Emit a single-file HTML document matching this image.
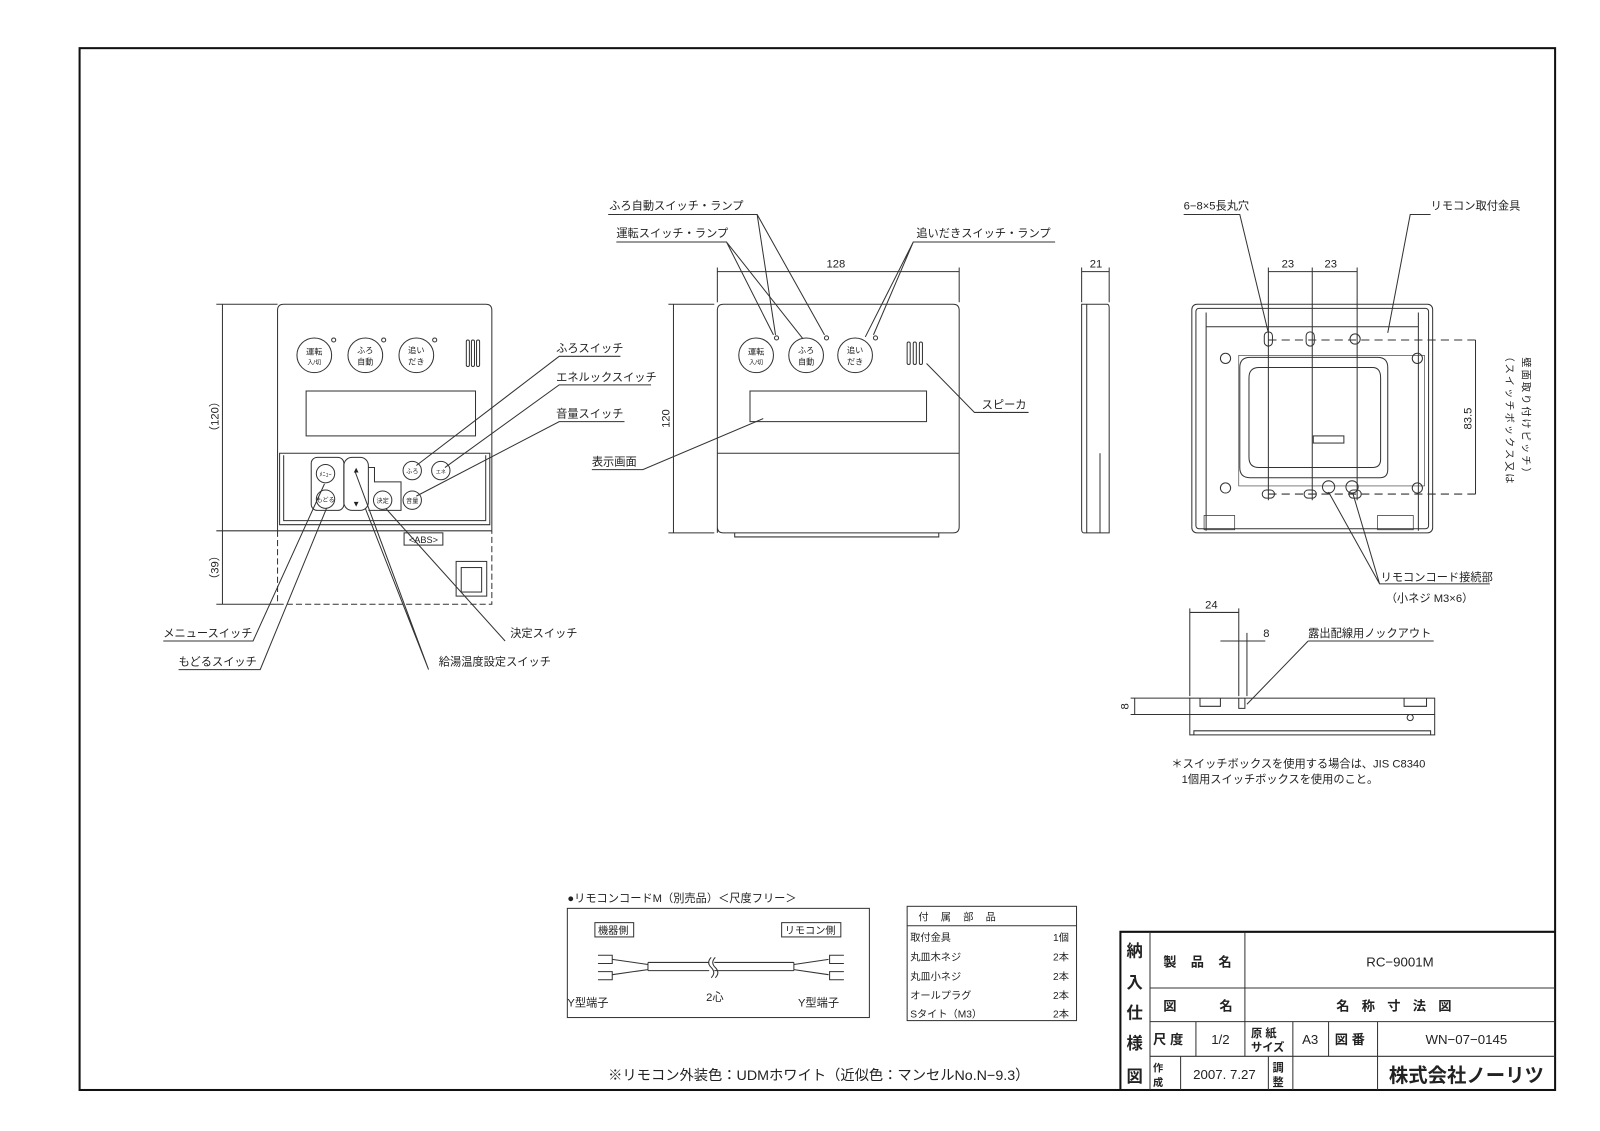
<!DOCTYPE html>
<html><head><meta charset="utf-8"><style>
html,body{margin:0;padding:0;background:#fff}
svg{display:block}
text{font-family:"Liberation Sans","Noto Sans CJK JP",sans-serif;fill:#222}
</style></head><body>
<svg width="1600" height="1131" viewBox="0 0 1568 1108" xmlns="http://www.w3.org/2000/svg">
<g fill="none" stroke="#333" stroke-width="1">
<rect x="78" y="47" width="1446" height="1021" stroke="#111" stroke-width="2"/>

<path d="M272 520 V304 q0-6 6-6 H476 q6 0 6 6 V520"/>
<path d="M272 520 H482" />
<path d="M272 520 V592 H482 V520" stroke-dasharray="6 3"/>
<circle cx="308" cy="348" r="17"/><circle cx="358" cy="348" r="17"/><circle cx="408" cy="348" r="17"/>
<circle cx="327" cy="333" r="2"/><circle cx="376" cy="333" r="2"/><circle cx="426" cy="333" r="2"/>
<rect x="457" y="333" width="3" height="26" rx="1.5"/><rect x="462" y="333" width="3" height="26" rx="1.5"/><rect x="467" y="333" width="3" height="26" rx="1.5"/>
<rect x="300" y="383" width="166" height="44"/>
<path d="M274 444 H480 V514 H274 Z"/><path d="M278 446 V510 H476 V446"/>
<rect x="305" y="448" width="32" height="52" rx="6"/>
<rect x="337" y="448" width="24" height="52" rx="8"/>
<path d="M361 458 h6 v14 h26 v28 h-32"/>
<circle cx="319" cy="464" r="9"/><circle cx="319" cy="489" r="9"/>
<circle cx="375" cy="490" r="9"/><circle cx="404" cy="461" r="9"/><circle cx="432" cy="461" r="9"/><circle cx="404" cy="490" r="9"/>
<rect x="396" y="522" width="38" height="12"/>
<rect x="447" y="550" width="30" height="34"/><rect x="452" y="556" width="20" height="24"/>
<path d="M218 298 V592 M212 298 H272 M212 520 H272 M212 592 H272"/>
<path d="M160 628 H248 L318 474"/><path d="M175 656 H255 L320 498"/>
<path d="M495 628 L378 498"/><path d="M420 656 L348 462 M420 656 L358 498"/>
<path d="M608 349 H548 L408 456"/><path d="M638 377 H548 L436 458"/><path d="M612 413 H548 L408 486"/>

<path d="M703 522 V304 q0-6 6-6 H934 q6 0 6 6 V516 q0 6-6 6 H709 q-6 0-6-6"/>
<path d="M703 444 H940"/>
<circle cx="741" cy="348" r="17"/><circle cx="790" cy="348" r="17"/><circle cx="838" cy="348" r="17"/>
<circle cx="761" cy="331" r="2"/><circle cx="810" cy="331" r="2"/><circle cx="858" cy="331" r="2"/>
<rect x="889" y="335" width="3" height="22" rx="1.5"/><rect x="895" y="335" width="3" height="22" rx="1.5"/><rect x="901" y="335" width="3" height="22" rx="1.5"/>
<rect x="735" y="383" width="173" height="30"/>
<path d="M720 522 v4 h200 v-4"/>
<path d="M703 262 V296 M940 262 V296 M703 266 H940"/>
<path d="M660 298 V522 M655 298 H700 M655 522 H700"/>
<path d="M596 210 H742 L760 328 M742 210 L808 328"/><path d="M604 237 H712 L758 328 M712 237 L787 332"/>
<path d="M1034 237 H895 L856 328 M895 237 L848 330"/>
<path d="M1008 404 H955 L908 356"/><path d="M580 460 H630 L748 410"/>

<path d="M1060 298 H1085 q2 0 2 4 V522 H1062 q-2 0-2-4 Z"/><path d="M1065 298 V522 M1078 444 V522"/>
<path d="M1060 262 V296 M1087 262 V296 M1060 266 H1087"/>

<rect x="1168" y="298" width="236" height="224" rx="5"/><rect x="1172" y="302" width="228" height="216" rx="3"/>
<path d="M1182 320 H1390 M1182 306 V520 M1390 306 V520"/>
<path d="M1214 348 H1396 V476 H1214 Z" stroke-width="0.6"/>
<path d="M1215 360 q0-10 10-10 H1350 q10 0 10 10 V460 q0 8-8 8 H1225 q-10 0-10-10 Z"/>
<path d="M1224 370 q0-10 10-10 H1345 q8 0 8 10 V450 q0 8-8 8 H1234 q-10 0-10-10 Z"/>
<rect x="1287" y="427" width="30" height="7"/>
<rect x="1239" y="325" width="8" height="14" rx="4"/><rect x="1280" y="325" width="8" height="14" rx="4"/><circle cx="1328" cy="332" r="5"/>
<rect x="1237" y="480" width="12" height="8" rx="4"/><rect x="1278" y="480" width="12" height="8" rx="4"/><rect x="1322" y="480" width="12" height="8" rx="4"/>
<circle cx="1302" cy="477" r="6"/><circle cx="1325" cy="477" r="6"/>
<circle cx="1201" cy="351" r="5"/><circle cx="1389" cy="351" r="5"/><circle cx="1201" cy="478" r="5"/><circle cx="1389" cy="478" r="5"/>
<path d="M1243 333 H1450 M1243 484 H1450" stroke-dasharray="8 5"/>
<path d="M1243 262 V490 M1286 262 V490 M1330 262 V490 M1243 266 H1330"/>
<path d="M1446 333 V484"/>
<path d="M1160 210 H1215 L1243 326"/><path d="M1402 210 H1382 L1360 326"/>
<path d="M1460 572 H1352 L1302 482 M1352 572 L1326 484"/>
<path d="M1180 505 h30 v14 h-30 z M1350 505 h35 v14 h-35 z" stroke-width="0.7"/>

<rect x="1166" y="684" width="240" height="36"/>
<path d="M1166 700 H1406 M1176 684 v8 h20 v-8 M1376 684 v8 h22 v-8 M1214 684 v10 h6 v-10 M1170 720 v-4 h232 v4"/>
<path d="M1166 596 V682 M1214 596 V682 M1222 620 V682 M1166 600 H1214 M1196 628 H1240 M1108 684 H1166 M1108 700 H1166 M1112 684 V700"/>
<path d="M1282 628 H1405 M1282 628 L1222 690"/>
<circle cx="1382" cy="703" r="3"/>

<rect x="556" y="890" width="296" height="107"/>
<rect x="583" y="904" width="38" height="14"/><rect x="766" y="904" width="58" height="14"/>
<path d="M635 943 H695 M635 951 H695 M700 943 H778 M700 951 H778 M635 943 V951 M778 943 V951"/>
<path d="M697 938 q-5 5 0 10 q5 5 0 10 M701 938 q-5 5 0 10 q5 5 0 10"/>
<path d="M600 940 L635 945 M600 955 L635 950 M778 945 L812 940 M778 950 L812 955"/>
<path d="M586 936 h14 v8 h-14 M586 952 h14 v8 h-14 M827 936 h-14 v8 h14 M827 952 h-14 v8 h14"/>

<rect x="889" y="888" width="166" height="112"/>
<path d="M889 907 H1055"/>

<path d="M1098 1068 V913 H1524" stroke="#111" stroke-width="2"/>
<path d="M1127 913 V1068 M1220 913 V1035 M1127 968 H1524 M1127 1001 H1524 M1127 1035 H1524 M1172 1001 V1035 M1267 1001 V1068 M1302 1001 V1035 M1350 1001 V1068 M1157 1035 V1068 M1243 1035 V1068"/>
</g>

<g font-size="11">
<text x="597" y="205">ふろ自動スイッチ・ランプ</text>
<text x="604" y="232">運転スイッチ・ランプ</text>
<text x="898" y="232">追いだきスイッチ・ランプ</text>
<text x="810" y="262">128</text>
<text x="1068" y="262">21</text>
<text x="1160" y="205">6−8×5長丸穴</text>
<text x="1402" y="205">リモコン取付金具</text>
<text x="1256" y="262">23</text><text x="1298" y="262">23</text>
<text x="545" y="345">ふろスイッチ</text>
<text x="545" y="373">エネルックスイッチ</text>
<text x="545" y="409">音量スイッチ</text>
<text x="962" y="400">スピーカ</text>
<text x="580" y="456">表示画面</text>
<text x="160" y="624">メニュースイッチ</text>
<text x="175" y="652">もどるスイッチ</text>
<text x="500" y="624">決定スイッチ</text>
<text x="430" y="652">給湯温度設定スイッチ</text>
<text x="1353" y="569">リモコンコード接続部</text>
<text x="1358" y="590">（小ネジ M3×6）</text>
<text x="1181" y="596">24</text><text x="1238" y="624">8</text>
<text x="1282" y="624">露出配線用ノックアウト</text>
<text x="1148" y="752">＊スイッチボックスを使用する場合は、JIS C8340</text>
<text x="1158" y="767">1個用スイッチボックスを使用のこと。</text>
<text x="556" y="884">●リモコンコードM（別売品）＜尺度フリー＞</text>
<text x="586" y="915" font-size="10">機器側</text><text x="769" y="915" font-size="10">リモコン側</text>
<text x="556" y="986">Y型端子</text><text x="692" y="981">2心</text><text x="782" y="986">Y型端子</text>
<text x="900" y="902" font-size="10" letter-spacing="12">付属部品</text>
<g font-size="10"><text x="892" y="922">取付金具</text><text x="1032" y="922">1個</text>
<text x="892" y="941">丸皿木ネジ</text><text x="1032" y="941">2本</text>
<text x="892" y="960">丸皿小ネジ</text><text x="1032" y="960">2本</text>
<text x="892" y="979">オールプラグ</text><text x="1032" y="979">2本</text>
<text x="892" y="997">Sタイト（M3）</text><text x="1032" y="997">2本</text></g>
<text x="596" y="1058" font-size="14">※リモコン外装色：UDMホワイト（近似色：マンセルNo.N−9.3）</text>
<text transform="translate(214 408) rotate(-90)" x="0" y="0" text-anchor="middle">（120）</text>
<text transform="translate(214 556) rotate(-90)" text-anchor="middle">（39）</text>
<text transform="translate(656 410) rotate(-90)" text-anchor="middle">120</text>
<text transform="translate(1442 410) rotate(-90)" text-anchor="middle">83.5</text>
<text transform="translate(1476 410) rotate(90)" text-anchor="middle" font-size="10" letter-spacing="2">（スイッチボックス又は</text>
<text transform="translate(1492 410) rotate(90)" text-anchor="middle" font-size="10" letter-spacing="2">壁面取り付けピッチ）</text>
<text transform="translate(1106 692) rotate(-90)" text-anchor="middle">8</text>
</g>
<g font-size="8" text-anchor="middle">
<text x="308" y="347">運転</text><text x="308" y="357" font-size="6">入/切</text>
<text x="358" y="346">ふろ</text><text x="358" y="357">自動</text>
<text x="408" y="346">追い</text><text x="408" y="357">だき</text>
<text x="741" y="347">運転</text><text x="741" y="357" font-size="6">入/切</text>
<text x="790" y="346">ふろ</text><text x="790" y="357">自動</text>
<text x="838" y="346">追い</text><text x="838" y="357">だき</text>
<text x="319" y="467" font-size="6">ﾒﾆｭｰ</text><text x="319" y="492" font-size="6">もどる</text>
<text x="349" y="463">▲</text><text x="349" y="496">▼</text>
<text x="375" y="493" font-size="6">決定</text><text x="404" y="464" font-size="6">ふろ</text>
<text x="432" y="464" font-size="5">エネ</text><text x="404" y="493" font-size="6">音量</text>
<text x="415" y="532" font-size="9">&lt;ABS&gt;</text>
</g>
<g font-size="16" font-weight="bold" text-anchor="middle">
<text x="1112" y="937">納</text><text x="1112" y="968">入</text><text x="1112" y="998">仕</text><text x="1112" y="1028">様</text><text x="1112" y="1060">図</text>
</g>
<g font-size="13" font-weight="bold">
<text x="1140" y="947" letter-spacing="14">製品名</text>
<text x="1140" y="990">図</text><text x="1195" y="990">名</text>
<text x="1130" y="1023">尺 度</text>
<text x="1226" y="1016" font-size="11">原 紙</text><text x="1226" y="1030" font-size="11">サイズ</text>
<text x="1308" y="1023">図 番</text>
<text x="1130" y="1050" font-size="10">作</text><text x="1130" y="1064" font-size="10">成</text>
<text x="1247" y="1050" font-size="11">調</text><text x="1247" y="1064" font-size="11">整</text>
</g>
<g font-size="13" text-anchor="middle">
<text x="1372" y="947">RC−9001M</text>
<text x="1372" y="990" font-weight="bold" letter-spacing="12">名称寸法図</text>
<text x="1196" y="1023">1/2</text><text x="1284" y="1023">A3</text>
<text x="1437" y="1023">WN−07−0145</text>
<text x="1200" y="1057">2007. 7.27</text>
<text x="1437" y="1060" font-size="19" font-weight="bold">株式会社ノーリツ</text>
</g>
</svg>
</body></html>
